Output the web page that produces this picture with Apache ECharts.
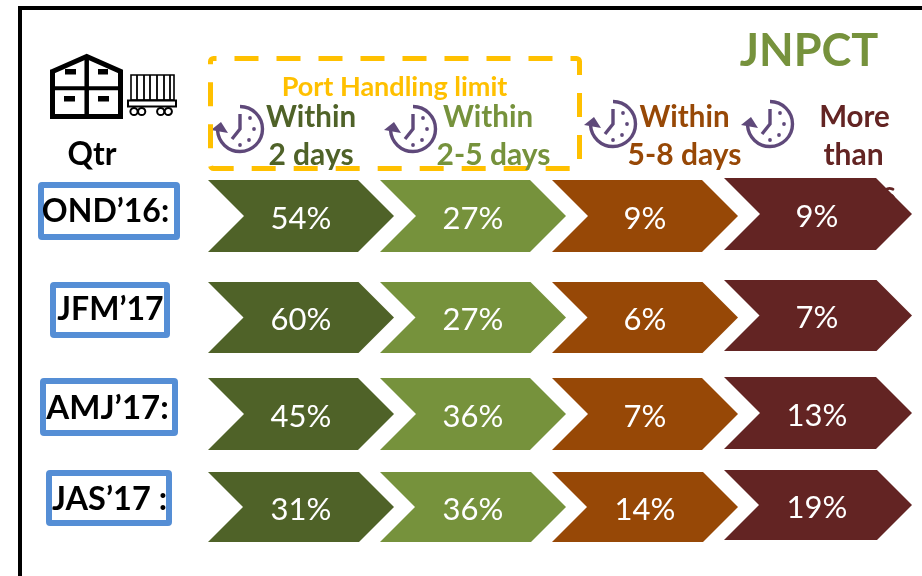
<!DOCTYPE html>
<html>
<head>
<meta charset="utf-8">
<style>html,body{margin:0;padding:0;background:#fff}#chart{width:922px;height:576px}</style>
<script src="https://cdn.jsdelivr.net/npm/echarts@6/dist/echarts.min.js"></script>
</head>
<body>
<div id="chart"></div>
<script>
// Share of containers by dwell-time bucket, per quarter (percent)
const quarters = ['OND’16:', 'JFM’17', 'AMJ’17:', 'JAS’17 :'];
const buckets = ['Within 2 days', 'Within 2-5 days', 'Within 5-8 days', 'More than 8 days'];
const within2Days = [54, 60, 45, 31];
const within2to5Days = [27, 27, 36, 36];
const within5to8Days = [9, 6, 7, 14];
const moreThan8Days = [9, 7, 13, 19];
const bucketValues = [within2Days, within2to5Days, within5to8Days, moreThan8Days];
const bucketColors = ['#4F6228', '#76923C', '#974806', '#632423'];

const FONT = 'Lato';
const PURPLE = '#5F497A';
const BLUE = '#558ED5';
const GOLD = '#FFC000';

// One grid per quarter row, so each row band can sit at its own height
const rowBands = [[180, 72], [282, 71], [378, 72], [472, 70]];
const lastColumnNudge = [-2, -2, -1, -2];
const BAND_OVERLAP = 14;

const chevron = (params, api) => {
  const col = api.value(0);
  const rowIdx = params.seriesIndex;
  const [cx, cy0] = api.coord([col, 0]);
  const bandW = api.size([1, 0])[0];
  const h = api.size([0, 1])[1];
  const cy = cy0 + (col === 3 ? lastColumnNudge[rowIdx] : 0);
  const left = cx - bandW / 2;
  const width = bandW + BAND_OVERLAP + (col === 3 ? 2 : 0);
  const pt = h / 2;
  return {
    type: 'group',
    children: [
      {
        type: 'polygon',
        shape: {
          points: [
            [left, cy - h / 2], [left + width - pt, cy - h / 2], [left + width, cy],
            [left + width - pt, cy + h / 2], [left, cy + h / 2], [left + pt, cy]
          ]
        },
        style: { fill: bucketColors[col] }
      },
      {
        type: 'text',
        style: {
          x: left + 93, y: cy + 2.5,
          text: api.value(1) + '%',
          fill: '#fff', font: '400 31px ' + FONT, textAlign: 'center', textVerticalAlign: 'middle'
        }
      }
    ]
  };
};

const grids = rowBands.map(([top, height]) => ({ left: 208, width: 688, top, height }));
const xAxes = rowBands.map((_, i) => ({ type: 'category', gridIndex: i, data: buckets, show: false }));
const yAxes = rowBands.map((_, i) => ({ type: 'category', gridIndex: i, data: [quarters[i]], show: false }));
const series = rowBands.map((_, i) => ({
  type: 'custom',
  xAxisIndex: i,
  yAxisIndex: i,
  z: 5,
  encode: { x: 0 },
  data: bucketValues.map((vals, col) => [col, vals[i]]),
  renderItem: chevron
}));

const label = (text, x, y, fill, size) => ({
  type: 'text', z: 1,
  style: { x, y, text, fill, font: '700 ' + size + 'px ' + FONT, textAlign: 'center', textVerticalAlign: 'middle' }
});

// Rounded quarter tags on the left: box, then text centre and size
const tagBoxes = [
  [38, 182, 142, 58, 105.5, 212, 32],
  [50, 282, 120, 56, 110.5, 310, 32],
  [40, 378, 138, 58, 107.5, 408, 33],
  [46, 470, 126, 56, 109.5, 500, 32.5]
];
const tags = [];
tagBoxes.forEach(([x, y, w, h, tx, ty, size], i) => {
  tags.push({
    type: 'rect', z: 1,
    shape: { x: x + 3, y: y + 3, width: w - 6, height: h - 6, r: 1 },
    style: { fill: '#fff', stroke: BLUE, lineWidth: 6, lineJoin: 'round' }
  });
  tags.push(label(quarters[i], tx, ty, '#000', size));
});

// Clock with a counter-clockwise arrow, used above each bucket
const clock = (x, y) => ({
  type: 'group', x, y, z: 2,
  children: [
    { type: 'arc', shape: { cx: 0, cy: 0, r: 22.5, startAngle: -Math.PI / 2, endAngle: Math.PI * 0.98, clockwise: true },
      style: { fill: null, stroke: PURPLE, lineWidth: 3.4 } },
    { type: 'polygon', shape: { points: [[-29, 1], [-19, -7], [-12, 4]] }, style: { fill: PURPLE } },
    { type: 'polyline', shape: { points: [[0, -15], [0, 0], [-8, 10]] },
      style: { fill: null, stroke: PURPLE, lineWidth: 3.4 } },
    ...[[10, -11], [14, 0], [9, 11], [0, 16]].map(([cx, cy]) => ({
      type: 'circle', shape: { cx, cy, r: 1.9 }, style: { fill: PURPLE }
    }))
  ]
});

// Warehouse outline with its four stacked crates
const warehouse = {
  type: 'group', z: 2,
  children: [
    { type: 'polygon', shape: { points: [[52.5, 71.5], [86.7, 56.5], [120.5, 71.5], [120.5, 116.5], [52.5, 116.5]] },
      style: { fill: '#fff', stroke: '#000', lineWidth: 5 } },
    { type: 'line', shape: { x1: 86.7, y1: 56, x2: 86.7, y2: 119 }, style: { stroke: '#000', lineWidth: 4.5 } },
    { type: 'line', shape: { x1: 52, y1: 88.3, x2: 121, y2: 88.3 }, style: { stroke: '#000', lineWidth: 4 } },
    ...[[65, 69, 11, 5.5], [98, 69, 10, 5.5], [64, 96, 11, 5.5], [98, 96, 11, 5.5]].map(([x, y, width, height]) => ({
      type: 'rect', shape: { x, y, width, height }, style: { fill: '#000' }
    }))
  ]
};

// Rail wagon beside the warehouse
const wagon = {
  type: 'group', z: 2,
  children: [
    { type: 'rect', shape: { x: 131, y: 75, width: 43, height: 25 }, style: { fill: '#fff', stroke: '#000', lineWidth: 1.6 } },
    ...[137, 144, 150, 157, 164, 170].map((x) => ({
      type: 'line', shape: { x1: x, y1: 75, x2: x, y2: 100 }, style: { stroke: '#000', lineWidth: 1.8 }
    })),
    { type: 'rect', shape: { x: 128, y: 100.5, width: 48, height: 6 }, style: { fill: '#fff', stroke: '#000', lineWidth: 2 } },
    ...[134, 141.7, 160.7, 168.3].map((cx) => ({
      type: 'circle', shape: { cx, cy: 111.5, r: 3.6 }, style: { fill: '#fff', stroke: '#000', lineWidth: 2 }
    }))
  ]
};

const graphics = [
  // Frame: only the top and left edges fall inside the page
  { type: 'line', z: 1, shape: { x1: 18, y1: 8, x2: 922, y2: 8 }, style: { stroke: '#000', lineWidth: 4 } },
  { type: 'line', z: 1, shape: { x1: 20, y1: 6, x2: 20, y2: 576 }, style: { stroke: '#000', lineWidth: 4 } },

  // Dashed box marking the port handling limit
  { type: 'rect', z: 1, shape: { x: 210.5, y: 58.5, width: 369, height: 110, r: 3 },
    style: { fill: null, stroke: GOLD, lineWidth: 5, lineDash: [24, 18], lineDashOffset: 21 } },

  warehouse, wagon,
  label('JNPCT', 809, 51, '#76923C', 45),
  label('Qtr', 92, 155, '#000', 31.5),
  label('Port Handling limit', 394.5, 87, GOLD, 27),

  clock(240, 129), clock(413, 129), clock(613, 124), clock(770, 124),

  label('Within', 311, 117, bucketColors[0], 29.5),
  label('2 days', 311, 155, bucketColors[0], 30),
  label('Within', 488, 117, bucketColors[1], 29.5),
  label('2-5 days', 493.5, 155, bucketColors[1], 30),
  label('Within', 684.5, 117, bucketColors[2], 29.5),
  label('5-8 days', 684.5, 155, bucketColors[2], 30),
  label('More', 854.5, 117, bucketColors[3], 29.5),
  label('than', 853.5, 155, bucketColors[3], 30),
  // Third line runs underneath the chevron row
  label('8 days', 853, 193, bucketColors[3], 30),

  ...tags
];

const chart = echarts.init(document.getElementById('chart'), null, { renderer: 'canvas' });
chart.setOption({
  backgroundColor: '#fff',
  animation: false,
  tooltip: { show: false },
  grid: grids,
  xAxis: xAxes,
  yAxis: yAxes,
  series,
  graphic: graphics
});
</script>
</body>
</html>
